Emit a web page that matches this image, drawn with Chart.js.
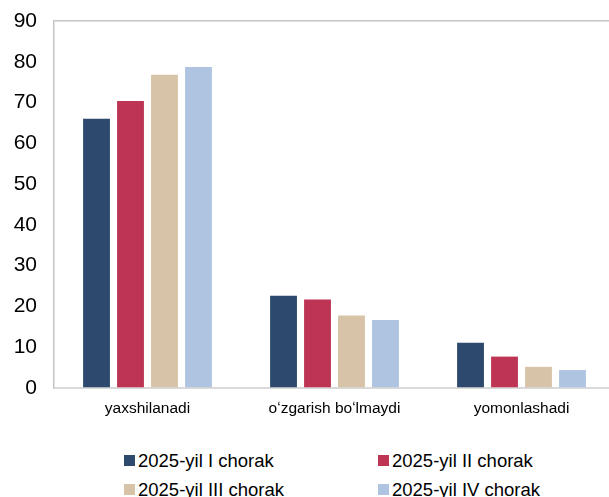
<!DOCTYPE html>
<html>
<head>
<meta charset="utf-8">
<script src="https://cdn.jsdelivr.net/npm/chart.js@4.4.1/dist/chart.umd.min.js"></script>
<style>
  html, body { margin: 0; padding: 0; width: 609px; height: 497px; overflow: hidden; background: #fff; }
  #wrap { position: relative; width: 609px; height: 497px; }
  #myChart { position: absolute; left: 0; top: 0; }
  .leg { position: absolute; font-family: "Liberation Sans", Arial, sans-serif; font-size: 18.5px; color: #000; white-space: nowrap; line-height: 22px; }
  .leg span { display: inline-block; width: 11px; height: 11px; margin-right: 3px; vertical-align: 1px; }
</style>
</head>
<body>
<div id="wrap">
  <canvas id="myChart" width="615" height="430"></canvas>
  <div id="legend"></div>
</div>
<script>
// categories and series
const categories = ["yaxshilanadi", "o\u02bbzgarish bo\u02bblmaydi", "yomonlashadi"];
const seriesNames = ["2025-yil I chorak", "2025-yil II chorak", "2025-yil III chorak", "2025-yil IV chorak"];
const q1 = [66.0, 22.6, 11.1];
const q2 = [70.4, 21.7, 7.7];
const q3 = [76.8, 17.8, 5.2];
const q4 = [78.7, 16.7, 4.4];
const colors = ["#2E496E", "#BE3455", "#D7C4A8", "#AFC4E0"];
const yTicks = [0, 10, 20, 30, 40, 50, 60, 70, 80, 90];

const values = [q1, q2, q3, q4];
const data = {
  labels: categories,
  datasets: values.map((v, i) => ({
    label: seriesNames[i],
    data: v,
    backgroundColor: colors[i],
    borderWidth: 0,
    categoryPercentage: 0.727,
    barPercentage: 0.79
  }))
};

const ctx = document.getElementById("myChart");
new Chart(ctx, {
  type: "bar",
  data: data,
  options: {
    responsive: false,
    animation: false,
    devicePixelRatio: 1,
    layout: { padding: { top: 21, left: 0, right: 0, bottom: 0 } },
    plugins: { legend: { display: false }, tooltip: { enabled: false } },
    scales: {
      x: {
        grid: { display: false, drawTicks: false },
        border: { display: true, color: "#D9D9D9", width: 2 },
        ticks: {
          color: "#000",
          padding: 11,
          maxRotation: 0,
          font: { family: "'Liberation Sans', Arial, sans-serif", size: 15.5 }
        },
        afterFit: (scale) => { scale.height = 42; }
      },
      y: {
        min: 0,
        max: 90,
        afterBuildTicks: (scale) => { scale.ticks = yTicks.map(v => ({ value: v })); },
        grid: {
          drawTicks: false,
          color: (c) => (c.tick && c.tick.value === 90 ? "#C4C4C4" : "rgba(0,0,0,0)"),
          lineWidth: 1.5
        },
        border: { display: true, color: "#C4C4C4", width: 1.5 },
        ticks: {
          color: "#000",
          padding: 17,
          font: { family: "'Liberation Sans', Arial, sans-serif", size: 21 }
        },
        afterFit: (scale) => { scale.width = 54; }
      }
    }
  },
  plugins: [{
    id: "fixTop",
    afterLayout: (chart) => {
      // keep the plot area top where the reference has it
      const a = chart.chartArea;
      const y = chart.scales.y;
      const top = 21;
      a.top = top;
      y.top = top;
      y.height = a.bottom - top;
      y.configure();
    }
  }]
});

// legend, 2 columns
const legend = document.getElementById("legend");
const legPos = [[124, 450], [378, 450], [124, 479], [378, 479]];
seriesNames.forEach((name, i) => {
  const d = document.createElement("div");
  d.className = "leg";
  d.style.left = legPos[i][0] + "px";
  d.style.top = legPos[i][1] + "px";
  d.innerHTML = '<span style="background:' + colors[i] + '"></span>' + name;
  legend.appendChild(d);
});
</script>
</body>
</html>
